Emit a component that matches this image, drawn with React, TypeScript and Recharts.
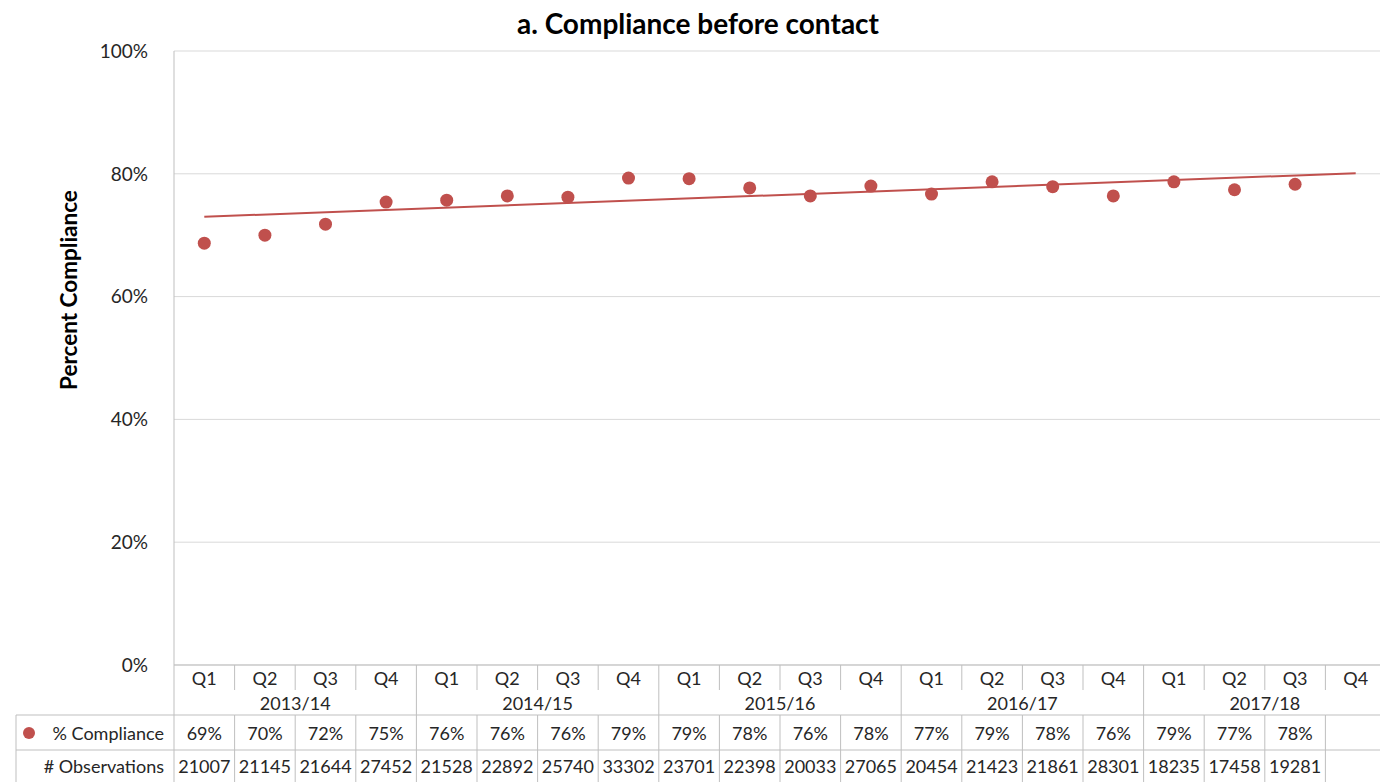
import React from 'react';
import { ComposedChart, Line, XAxis, YAxis, CartesianGrid } from 'recharts';

const years = ['2013/14', '2014/15', '2015/16', '2016/17', '2017/18'];
const quarters = ['Q1', 'Q2', 'Q3', 'Q4'];
// % compliance per quarter (last quarter not yet reported)
const compliance = [68.7, 70.0, 71.8, 75.4, 75.7, 76.4, 76.2, 79.3, 79.2, 77.7, 76.4, 78.0, 76.7, 78.7, 77.9, 76.4, 78.7, 77.4, 78.3, null];
const observations = [21007, 21145, 21644, 27452, 21528, 22892, 25740, 33302, 23701, 22398, 20033, 27065, 20454, 21423, 21861, 28301, 18235, 17458, 19281, null];
// linear trend line end points
const trendStart = 73.0;
const trendEnd = 80.1;
const yTicks = [0, 20, 40, 60, 80, 100];

const RED = '#c0504d';
const LINE = '#bfbfbf';
const TEXT = '#262626';
const FONT = 'Lato, "Open Sans", sans-serif';

const CHART_W = 1386;
const CHART_H = 782;
const LEFT = 174;
const BAND = (CHART_W - LEFT) / 20;

const data = years.flatMap((year, yi) =>
  quarters.map((quarter, qi) => {
    const i = yi * 4 + qi;
    return {
      key: `${year} ${quarter}`,
      year,
      quarter,
      qi,
      compliance: compliance[i],
      obs: observations[i],
      trend: i === 0 ? trendStart : i === 19 ? trendEnd : null,
    };
  })
);

const TableTick = (props: any) => {
  const { x, y, payload } = props;
  const i = payload.index;
  const d = data[i];
  const l = x - BAND / 2;
  const r = x + BAND / 2;
  const bottom = CHART_H + 5;
  const row1 = y + 50;
  const row2 = y + 85;
  const txt = { fontSize: 18, fill: TEXT, fontFamily: FONT, dominantBaseline: 'central' as const };
  return (
    <g>
      {i === 0 && (
        <g>
          <line x1={l} y1={y} x2={l} y2={bottom} stroke={LINE} />
          <line x1={16} y1={row1} x2={l} y2={row1} stroke={LINE} />
          <line x1={16} y1={row2} x2={l} y2={row2} stroke={LINE} />
          <line x1={16} y1={row1} x2={16} y2={bottom} stroke={LINE} />
          <circle cx={29} cy={y + 68} r={6} fill={RED} />
          <text x={164} y={y + 68} textAnchor="end" {...txt}>% Compliance</text>
          <text x={164} y={y + 101} textAnchor="end" {...txt}># Observations</text>
        </g>
      )}
      {d.qi < 3 ? (
        <line x1={r} y1={y} x2={r} y2={y + 25} stroke={LINE} />
      ) : (
        <line x1={r} y1={y} x2={r} y2={row1} stroke={LINE} />
      )}
      <line x1={r} y1={row1} x2={r} y2={bottom} stroke={LINE} />
      <line x1={l} y1={row1} x2={r} y2={row1} stroke={LINE} />
      <line x1={l} y1={row2} x2={r} y2={row2} stroke={LINE} />
      <text x={x} y={y + 13} textAnchor="middle" {...txt}>{d.quarter}</text>
      {d.qi === 1 && (
        <text x={r} y={y + 38} textAnchor="middle" {...txt}>{d.year}</text>
      )}
      {d.compliance != null && (
        <text x={x} y={y + 68} textAnchor="middle" {...txt}>{Math.round(d.compliance)}%</text>
      )}
      {d.obs != null && (
        <text x={x} y={y + 101} textAnchor="middle" {...txt}>{d.obs}</text>
      )}
    </g>
  );
};

const YTitle = () => (
  <text
    x={68}
    y={290}
    transform="rotate(-90, 68, 290)"
    textAnchor="middle"
    dominantBaseline="central"
    style={{ fontSize: 22.5, fontWeight: 700, fill: '#000', fontFamily: FONT }}
  >
    Percent Compliance
  </text>
);

export default function App() {
  return (
    <div style={{ position: 'absolute', left: 0, top: 0, width: 1380, height: 782, overflow: 'hidden', background: '#fff', fontFamily: FONT }}>
      <div style={{ position: 'absolute', left: 0, width: 1396, top: 6, textAlign: 'center', fontSize: 28, fontWeight: 700, color: '#000' }}>
        a. Compliance before contact
      </div>
      <ComposedChart width={CHART_W} height={CHART_H} data={data} margin={{ top: 51, right: 0, bottom: 0, left: 0 }}>
        <CartesianGrid vertical={false} stroke="#d9d9d9" />
        <XAxis
          dataKey="key"
          height={117}
          interval={0}
          padding={{ left: BAND / 2, right: BAND / 2 }}
          tickLine={false}
          tickSize={0}
          tickMargin={0}
          axisLine={{ stroke: LINE }}
          tick={<TableTick />}
        />
        <YAxis
          width={LEFT}
          domain={[0, 100]}
          ticks={yTicks}
          tickFormatter={(v) => `${v}%`}
          tickLine={false}
          tickSize={0}
          tickMargin={26}
          axisLine={{ stroke: LINE }}
          tick={{ fontSize: 19, fill: TEXT, fontFamily: FONT }}
          label={<YTitle />}
        />
        <Line dataKey="trend" connectNulls stroke={RED} strokeWidth={2} dot={false} activeDot={false} isAnimationActive={false} />
        <Line dataKey="compliance" stroke="none" dot={{ r: 6.5, fill: RED, stroke: 'none' }} activeDot={false} isAnimationActive={false} />
      </ComposedChart>
    </div>
  );
}
